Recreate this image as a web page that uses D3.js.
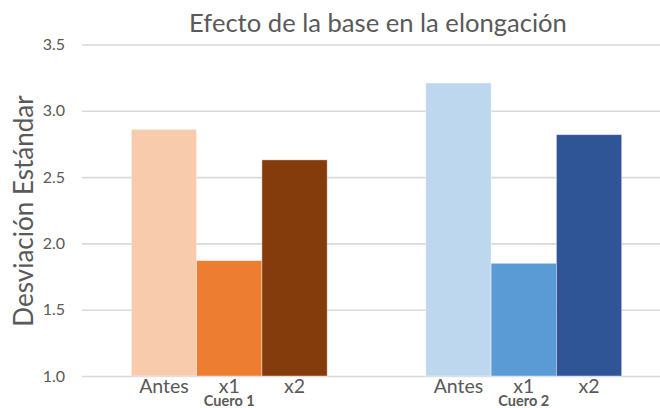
<!DOCTYPE html>
<html>
<head>
<meta charset="utf-8">
<script src="https://cdn.jsdelivr.net/npm/d3@7"></script>
<style>
  body { margin: 0; background: #fff; }
  text { font-family: Lato, "Open Sans", sans-serif; fill: #595959; }
</style>
</head>
<body>
<script>
var w = 660;
var h = 408;

// data
var groups = ["Cuero 1", "Cuero 2"];
var categories = ["Antes", "x1", "x2"];
var cuero1 = [2.86, 1.87, 2.63];
var cuero2 = [3.21, 1.85, 2.82];
var yTicks = [1.0, 1.5, 2.0, 2.5, 3.0, 3.5];

var colors1 = ["#F8CBAD", "#ED7D31", "#843C0C"];
var colors2 = ["#BDD7EE", "#5B9BD5", "#2F5597"];

var series = [cuero1, cuero2];
var palettes = [colors1, colors2];

// plot area (right edge runs past the picture, as in the original crop)
var plotLeft = 82, plotRight = 671, plotTop = 44.5, plotBottom = 376;

var x0 = d3.scaleBand()
  .domain(groups)
  .range([plotLeft, plotRight])
  .padding(0);

var x1 = d3.scaleBand()
  .domain(categories)
  .range([0, x0.bandwidth()])
  .paddingInner(0)
  .paddingOuter(0.755);

var y = d3.scaleLinear()
  .domain([1, 3.5])
  .range([plotBottom, plotTop]);

var svg = d3.select("body")
  .append("svg")
  .attr("width", w)
  .attr("height", h);

// grid + y tick labels
var yAxis = d3.axisLeft(y)
  .tickValues(yTicks)
  .tickFormat(d3.format(".1f"))
  .tickSize(-(w - plotLeft))
  .tickPadding(17);

var gy = svg.append("g")
  .attr("transform", "translate(" + plotLeft + ",0)")
  .call(yAxis);
gy.select(".domain").remove();
gy.selectAll("line").attr("stroke", "#D9D9D9").attr("stroke-width", 1.6);
gy.selectAll("text")
  .style("font-size", "16px")
  .attr("fill", "#595959");

// bars
var gGroups = svg.selectAll("g.grp")
  .data(groups)
  .enter()
  .append("g")
  .attr("class", "grp")
  .attr("transform", function(d) { return "translate(" + x0(d) + ",0)"; });

gGroups.selectAll("rect")
  .data(function(d, i) {
    return series[i].map(function(v, j) {
      return { cat: categories[j], value: v, color: palettes[i][j] };
    });
  })
  .enter()
  .append("rect")
  .attr("x", function(d) { return x1(d.cat); })
  .attr("y", function(d) { return y(d.value); })
  .attr("width", x1.bandwidth())
  .attr("height", function(d) { return y(1) - y(d.value); })
  .style("fill", function(d) { return d.color; })
  .style("stroke", "rgba(255,255,255,0.5)")
  .style("stroke-width", 0.8);

// category labels
gGroups.selectAll("text.cat")
  .data(categories)
  .enter()
  .append("text")
  .attr("class", "cat")
  .attr("x", function(d) { return x1(d) + x1.bandwidth() / 2; })
  .attr("y", 393)
  .attr("text-anchor", "middle")
  .style("font-size", "19.5px")
  .text(function(d) { return d; });

// group labels
gGroups.append("text")
  .attr("x", x0.bandwidth() / 2)
  .attr("y", 406)
  .attr("text-anchor", "middle")
  .style("font-size", "14.5px")
  .style("font-weight", "bold")
  .text(function(d) { return d; });

// title
svg.append("text")
  .attr("x", 378)
  .attr("y", 31.5)
  .attr("text-anchor", "middle")
  .style("font-size", "25.6px")
  .text("Efecto de la base en la elongación");

// y axis title
svg.append("text")
  .attr("transform", "translate(33,211) rotate(-90)")
  .attr("text-anchor", "middle")
  .style("font-size", "26px")
  .text("Desviación Estándar");
</script>
</body>
</html>
